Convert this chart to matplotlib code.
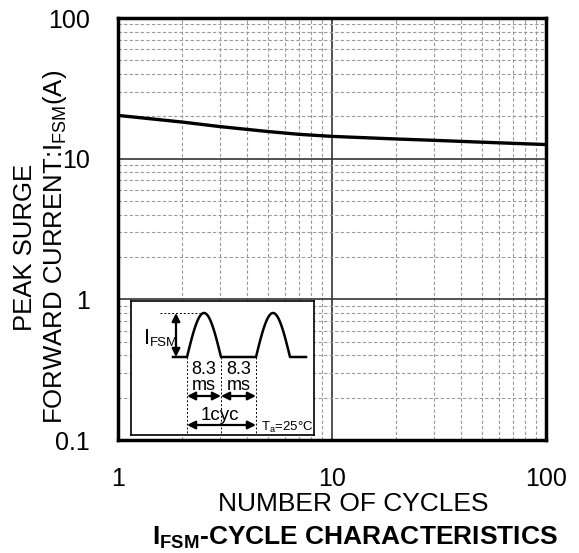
import numpy as np
import matplotlib
matplotlib.use('Agg')
import matplotlib.pyplot as plt
from matplotlib.ticker import LogLocator, FixedLocator, NullFormatter

plt.rcParams.update({
    'font.family': ['Liberation Sans', 'DejaVu Sans'],
    'mathtext.fontset': 'custom',
    'mathtext.rm': 'Liberation Sans',
    'mathtext.it': 'Liberation Sans',
    'mathtext.bf': 'Liberation Sans:bold',
})

# Surge current vs number of cycles
cycles = [1, 2, 3, 5, 7, 10, 20, 30, 50, 100]
ifsm = [20.3, 18.2, 16.9, 15.6, 14.9, 14.4, 13.8, 13.5, 13.1, 12.6]

x_ticks = [1, 10, 100]
x_tick_labels = ['1', '10', '100']
y_ticks = [0.1, 1, 10, 100]
y_tick_labels = ['0.1', '1', '10', '100']

W, H = 579, 553
fig = plt.figure(figsize=(W / 100, H / 100), dpi=100)
ax = fig.add_axes([118 / W, 1 - 440 / H, 428 / W, 422 / H])

ax.set_xscale('log')
ax.set_yscale('log')
ax.set_xlim(1, 100)
ax.set_ylim(0.1, 100)

ax.xaxis.set_major_locator(FixedLocator(x_ticks))
ax.yaxis.set_major_locator(FixedLocator(y_ticks))
ax.set_xticklabels(x_tick_labels)
ax.set_yticklabels(y_tick_labels)
ax.xaxis.set_minor_locator(LogLocator(base=10, subs=np.arange(2, 10)))
ax.yaxis.set_minor_locator(LogLocator(base=10, subs=np.arange(2, 10)))
ax.xaxis.set_minor_formatter(NullFormatter())
ax.yaxis.set_minor_formatter(NullFormatter())
ax.tick_params(which='both', length=0)
ax.tick_params(axis='x', which='major', labelsize=18, pad=19.5)
ax.tick_params(axis='y', which='major', labelsize=18, pad=20)

ax.grid(True, which='minor', color='#9a9a9a', linestyle=(0, (3, 2)), linewidth=0.8)
ax.grid(True, which='major', color='#333333', linestyle='-', linewidth=1.2)
for sp in ax.spines.values():
    sp.set_linewidth(2.5)
    sp.set_zorder(5)

ax.plot(cycles, ifsm, color='black', linewidth=2.4, zorder=4)

# axis labels and caption (offset right / down as in the original)
fig.text(353.5 / W, 1 - 504 / H, 'NUMBER OF CYCLES', fontsize=19,
         ha='center', va='center')
fig.text(355 / W, 1 - 538 / H, 'I$_{\\mathbf{FSM}}$-CYCLE CHARACTERISTICS',
         fontsize=19, fontweight='bold', ha='center', va='center')
fig.text(41 / W, 1 - 247 / H, 'PEAK SURGE\nFORWARD CURRENT:I$_{\\mathrm{FSM}}$(A)',
         fontsize=18.5, rotation=90, ha='center', va='center',
         multialignment='center', linespacing=1.15)

# Inset waveform sketch (local pixel-like units)
ins = ax.inset_axes([13 / 428, 5 / 422, 183 / 428, 134 / 422])
ins.set_xlim(131, 314)
ins.set_ylim(435, 301)
ins.set_xticks([])
ins.set_yticks([])
ins.set_facecolor('white')
ins.set_zorder(6)
for sp in ins.spines.values():
    sp.set_linewidth(1.2)

base, peak = 357, 313
p1, p2, p3 = 187, 221, 256
w = p2 - p1
t = np.linspace(0, 1, 60)
xs = np.concatenate([[173], p1 + w * t, [p3], p3 + w * t, [306]])
ys = np.concatenate([[base], base - (base - peak) * np.sin(np.pi * t), [base],
                     base - (base - peak) * np.sin(np.pi * t), [base]])
ins.plot(xs, ys, color='black', linewidth=1.8)

dot = dict(color='black', linestyle=(0, (2, 2)), linewidth=0.7)
ins.plot([160, 205], [peak, peak], **dot)
for xv in (p1, p2, p3):
    ins.plot([xv, xv], [base, 435], **dot)

arr = dict(arrowstyle='<|-|>', color='black', lw=1.6, mutation_scale=12,
           shrinkA=0, shrinkB=0)
ins.annotate('', xy=(176, peak), xytext=(176, base), arrowprops=arr)
ins.annotate('', xy=(p1, 396), xytext=(p2, 396), arrowprops=arr)
ins.annotate('', xy=(p2, 396), xytext=(p3, 396), arrowprops=arr)
ins.annotate('', xy=(p1, 425), xytext=(p3, 425), arrowprops=arr)

ins.text(143.5, 338, 'I', fontsize=15.5, ha='left', va='center')
ins.text(150, 343.5, 'FSM', fontsize=9.5, ha='left', va='center')
for xc in ((p1 + p2) / 2, (p2 + p3) / 2):
    ins.text(xc, 370, '8.3', fontsize=13, ha='center', va='center')
    ins.text(xc, 386, 'ms', fontsize=13, ha='center', va='center')
ins.text(219.5, 416, '1cyc', fontsize=13.5, ha='center', va='center')
ins.text(287, 427, 'T$_{\\mathrm{a}}$=25\u00b0C', fontsize=9.5, ha='center', va='center')

fig.savefig('out.png', dpi=100)
